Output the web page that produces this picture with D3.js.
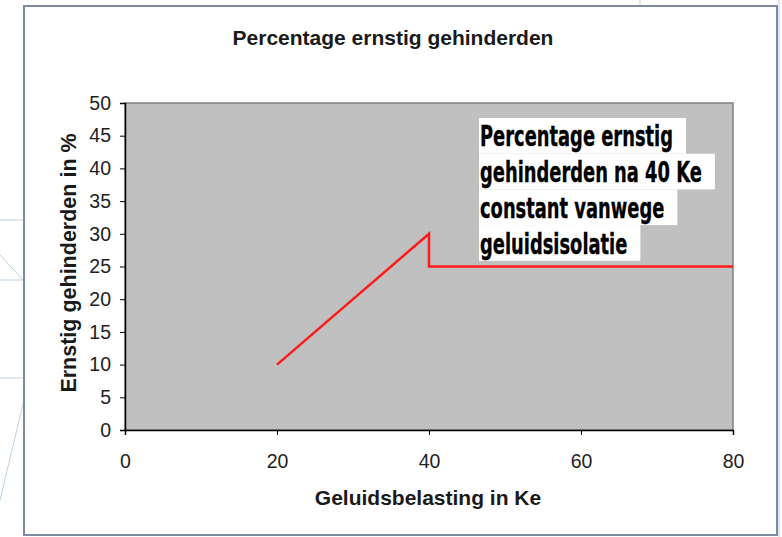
<!DOCTYPE html>
<html>
<head>
<meta charset="utf-8">
<script src="https://cdn.jsdelivr.net/npm/d3@7"></script>
<style>
  body { margin: 0; background: #fff; }
  svg text { font-family: "Liberation Sans", Arial, sans-serif; }
</style>
</head>
<body>
<div id="chart"></div>
<script>
var width = 782,
    height = 537;

// data
var lineX = [20, 40, 40, 80];
var lineY = [10, 30, 25, 25];
var xTicks = [0, 20, 40, 60, 80];
var yTicks = [0, 5, 10, 15, 20, 25, 30, 35, 40, 45, 50];
var noteLines = ["Percentage ernstig", "gehinderden na 40 Ke", "constant vanwege", "geluidsisolatie"];

var title = "Percentage ernstig gehinderden",
    xLabel = "Geluidsbelasting in Ke",
    yLabel = "Ernstig gehinderden in %";

var margin = {left: 125, right: 49, top: 103, bottom: 107};

var svg = d3.select("#chart").append("svg")
    .attr("width", width)
    .attr("height", height);

// faint background decoration behind the frame
var deco = svg.append("g")
    .attr("stroke", "#b9d3e3")
    .attr("stroke-width", 1)
    .attr("fill", "none");
deco.append("path").attr("d", "M0,220H24M0,255L24,281M0,280H24M0,378H24M24,400L0,500");
deco.append("path").attr("d", "M640,0V7M779,0V537");

// outer frame
svg.append("rect")
    .attr("x", 24).attr("y", 6)
    .attr("width", 753).attr("height", 529)
    .attr("fill", "#fff")
    .attr("stroke", "#7d8aa3")
    .attr("stroke-width", 2);

var x = d3.scaleLinear()
    .domain([0, 80])
    .range([margin.left, width - margin.right]);

var y = d3.scaleLinear()
    .domain([0, 50])
    .range([height - margin.bottom, margin.top]);

// plot area
svg.append("rect")
    .attr("x", x(0)).attr("y", y(50))
    .attr("width", x(80) - x(0)).attr("height", y(0) - y(50))
    .attr("fill", "#c0c0c0")
    .attr("stroke", "#808080")
    .attr("stroke-width", 1.5);

var xAxis = svg.append("g")
    .attr("transform", "translate(0," + y(0) + ")")
    .call(d3.axisBottom(x).tickValues(xTicks).tickSize(5).tickPadding(19));

var yAxis = svg.append("g")
    .attr("transform", "translate(" + x(0) + ",0)")
    .call(d3.axisLeft(y).tickValues(yTicks).tickSize(5).tickPadding(9));

[xAxis, yAxis].forEach(function(a) {
    a.select(".domain").attr("stroke", "#000").attr("stroke-width", 1.5);
    a.selectAll(".tick line").attr("stroke", "#000");
    a.selectAll(".tick text")
        .attr("fill", "#222")
        .style("font-size", "19.5px")
        .style("font-family", "'Liberation Sans', Arial, sans-serif");
});

// the red line
var pts = lineX.map(function(d, i) { return [d, lineY[i]]; });
var line = d3.line()
    .x(function(d) { return x(d[0]); })
    .y(function(d) { return y(d[1]); });

svg.append("path")
    .datum(pts)
    .attr("d", line)
    .attr("fill", "none")
    .attr("stroke", "#ff1a1a")
    .attr("stroke-width", 2.5);

// titles
svg.append("text")
    .attr("x", 393).attr("y", 45)
    .attr("text-anchor", "middle")
    .attr("font-weight", "bold")
    .attr("font-size", 21)
    .attr("fill", "#1a1a1a")
    .text(title);

svg.append("text")
    .attr("x", (x(0) + x(80)) / 2 - 1).attr("y", 505)
    .attr("text-anchor", "middle")
    .attr("font-weight", "bold")
    .attr("font-size", 21)
    .attr("fill", "#1a1a1a")
    .text(xLabel);

svg.append("text")
    .attr("transform", "translate(76,263) rotate(-90)")
    .attr("text-anchor", "middle")
    .attr("font-weight", "bold")
    .attr("font-size", 21.5)
    .attr("fill", "#1a1a1a")
    .text(yLabel);

// annotation: each line on its own white highlight, condensed bold type
var note = svg.append("g")
    .attr("transform", "translate(479,118)");

var lineH = 35.7;
var rows = note.selectAll("g")
    .data(noteLines)
    .enter().append("g")
    .attr("transform", function(d, i) { return "translate(0," + (i * lineH) + ")"; });

var boxes = rows.append("rect")
    .attr("y", 0)
    .attr("height", lineH)
    .attr("fill", "#fff");

var texts = rows.append("text")
    .attr("y", 28.5)
    .attr("font-size", 29)
    .attr("font-weight", "bold")
    .style("font-family", "'DejaVu Sans', sans-serif")
    .attr("fill", "#000")
    .attr("stroke", "#000")
    .attr("stroke-width", 0.4)
    .text(function(d) { return d; });

// squeeze so the longest line is about 222px wide
var widest = d3.max(texts.nodes(), function(n) { return n.getComputedTextLength(); });
var k = 222 / widest;
texts.attr("transform", "translate(1,0) scale(" + k + ",1)");
texts.each(function(d, i) {
    var w = this.getComputedTextLength() * k;
    d3.select(boxes.nodes()[i]).attr("width", w + 14);
});
</script>
</body>
</html>
